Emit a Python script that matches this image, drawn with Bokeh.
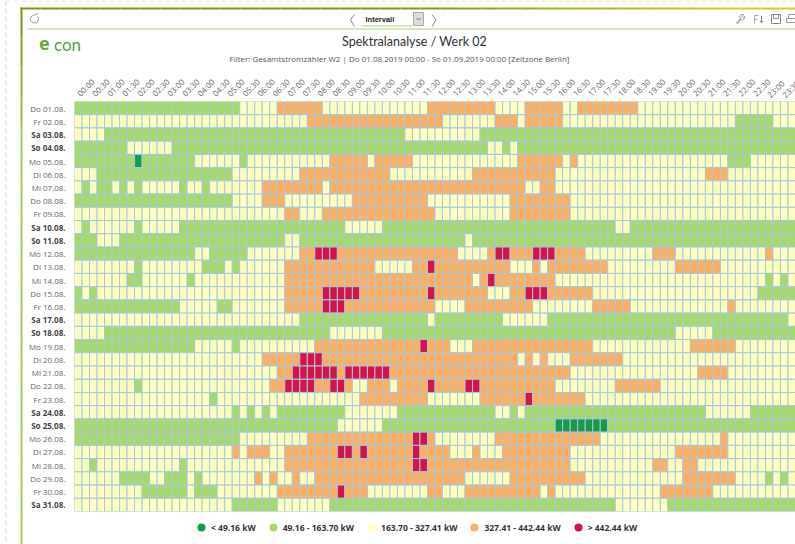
import math
from bokeh.core.properties import value
from bokeh.embed import file_html
from bokeh.layouts import column
from bokeh.resources import INLINE
from bokeh.plotting import figure
from bokeh.models import ColumnDataSource, FixedTicker, Range1d, Legend, LegendItem

days = ["Do 01.08.", "Fr 02.08.", "Sa 03.08.", "So 04.08.", "Mo 05.08.", "Di 06.08.", "Mi 07.08.", "Do 08.08.",
        "Fr 09.08.", "Sa 10.08.", "So 11.08.", "Mo 12.08.", "Di 13.08.", "Mi 14.08.", "Do 15.08.", "Fr 16.08.",
        "Sa 17.08.", "So 18.08.", "Mo 19.08.", "Di 20.08.", "Mi 21.08.", "Do 22.08.", "Fr 23.08.", "Sa 24.08.",
        "So 25.08.", "Mo 26.08.", "Di 27.08.", "Mi 28.08.", "Do 29.08.", "Fr 30.08.", "Sa 31.08."]
times = [f"{h:02d}:{m:02d}" for h in range(24) for m in (0, 15, 30, 45)]

class_labels = {"d": "< 49.16 kW", "g": "49.16 - 163.70 kW", "y": "163.70 - 327.41 kW",
                "o": "327.41 - 442.44 kW", "r": "> 442.44 kW"}
class_colors = {"d": "#169a4a", "g": "#a6d96a", "y": "#ffffbf", "o": "#fdae61", "r": "#d5134a"}

# per day: band code + first quarter-hour index of that band
day_bands = [
    "g0 y22 o27 y33 o47 y56 o60 y65 o67 y75",
    "y0 o31 y49 o56 y59 o60 y65 g88 y93",
    "y0 g4 y44 g54",
    "g0 y7 g13 y55 g57 y58 g59",
    "g0 d8 g9 y16 g22 y23 o34 y39 o40 y45 o59 y65 o66 y67 g87 y90",
    "y0 g3 y21 o30 y42 o53 y64 o84 y87",
    "y0 g1 y2 g3 y5 g6 y7 g8 y9 g14 y15 g17 y18 o25 y33 o34 y60 o62 y64",
    "g0 y21 o25 y28 o37 y47 o58 y66",
    "y0 o28 y30 o33 y48 o58 y66",
    "y0 g1 y2 g8 y9 g14 y36 g41 y72 g74",
    "g0 y3 g6 y28 g30 y52 g53",
    "g0 y16 g18 y23 o30 r32 o35 y51 o55 r56 o58 r61 o64 y68 o77 y80 o92 y93",
    "y0 g8 y9 g17 y20 g21 y22 o28 y40 o45 r47 o48 y58 o61 y62 o63 y71 o80 y86",
    "y0 g7 y9 g15 y16 o28 y53 o54 r55 o56 y64 g92 y93 g94 y95",
    "g0 y1 g2 y3 o28 r33 o38 r47 o48 y55 o58 r60 o63 y69 g91",
    "g0 y14 g19 y21 o28 r33 o36 y48 o52 y61 o69 y74 o87 y88",
    "y0 g30 y47 g48 y57 g63 y95",
    "y0 g4 y34 g41 y80 g85",
    "g0 y16 g21 y22 o32 r46 o47 y50 o53 y69 o82 y88",
    "y0 o25 r30 o33 y59 o60 y61 o62 y63 o66 y73",
    "y0 o27 r29 o35 r36 o42 y66 o83 y87",
    "y0 g8 y9 o26 r28 o32 r34 o36 y37 o39 y42 o43 r47 o48 r52 o54 y64 o72 y78",
    "y0 g18 y19 o38 y47 o54 r60 o61 y68",
    "y0 g21 y22 g23 y24 g25 y26 g27 y36 g43 y56 g58 y59 g60 y84 g90",
    "g0 y35 g41 d64 g71",
    "g0 y22 o31 r45 o47 y48 o56 y70 o86 y87",
    "y0 o21 y22 o23 y26 o28 r35 o37 r38 o39 r45 o46 y50 o53 y54 o57 y66 o80 y87",
    "y0 g2 y3 g14 y15 o28 r45 o47 y66 o77 y79 o81 y83",
    "y0 g6 y10 g12 y15 g16 y17 o24 y25 o26 y27 o29 y30 o32 y52 o58 y68 o81 y88 g92 y93 g94 y95",
    "y0 g9 y15 g16 y19 o27 r35 o36 y39 o47 y49 o52 y62 o63 y64 o78 y85",
    "y0 g21 y27 g34 y72 g79",
]

title_text = "Spektralanalyse / Werk 02"
filter_text = "Filter: Gesamtstromzähler W2 | Do 01.08.2019 00:00 - So 01.09.2019 00:00 [Zeitzone Berlin]"

W, H = 795, 544
LEFT, TOP, BOTTOM = 74, 101, 33
FONT = "Open Sans"

xs, ys, cols = [], [], []
for row, spec in enumerate(day_bands):
    parts = [(s[0], int(s[1:])) for s in spec.split()]
    for i, (c, start) in enumerate(parts):
        end = parts[i + 1][1] if i + 1 < len(parts) else len(times)
        for k in range(start, end):
            xs.append(k); ys.append(row); cols.append(class_colors[c])

# ---- backdrop figure: its frame is the whole page, in page pixels, so nothing in it is clipped
cell_w = (W - LEFT) / len(times)
cell_h = (H - TOP - BOTTOM) / len(days)
bg = figure(width=W, height=H, output_backend="svg", toolbar_location=None, frame_align=False,
            x_range=Range1d(0, W), y_range=Range1d(H, 0), x_axis_location=None, y_axis_location=None,
            min_border=0, outline_line_color=None)
bg.grid.visible = False
bg.extra_x_ranges["cells"] = Range1d(-0.5 - LEFT / cell_w, len(times) - 0.5)
bg.extra_y_ranges["rows"] = Range1d(len(days) - 0.5 + BOTTOM / cell_h, -0.5 - TOP / cell_h)


def box(x0, y0, x1, y1, fill, line=None):
    bg.quad(left=[x0], right=[x1], top=[y0], bottom=[y1], fill_color=fill, line_color=line, line_width=1)


def path(pts, color, width=1.0, dash="solid"):
    bg.line([a for a, b in pts], [b for a, b in pts], line_color=color, line_width=width, line_dash=dash)


def text(x, y, s, size, color="#444444", font=FONT, style="normal", align="left"):
    bg.text(x=[x], y=[y], text=[s], text_font=value(font), text_font_size=size, text_color=color,
            text_font_style=style, text_align=align, text_baseline="middle")


path([(5.5, 0), (5.5, H)], "#cccccc", 1, "5 3")
path([(5, 0.5), (W, 0.5)], "#dddddd", 1, "5 3")

# top bar gradient olive -> yellow
stops = [(20, (128, 148, 24)), (400, (140, 150, 20)), (720, (205, 205, 50)), (795, (205, 205, 50))]
for i in range(39):
    x0 = 20 + i * 20
    for (a, ca), (b, cb) in zip(stops, stops[1:]):
        if a <= x0 < b:
            t = (x0 - a) / (b - a)
            col = tuple(int(u + (v - u) * t) for u, v in zip(ca, cb))
    box(x0, 7, min(x0 + 20, W), 9, "#%02x%02x%02x" % col)
# left bar gradient
for i in range(18):
    y0 = 7 + i * 30
    t = min(i / 4, 1)
    col = (int(128 + 32 * t), int(148 + 52 * t), int(24 + 66 * t))
    box(20, y0, 22, min(y0 + 30, H), "#%02x%02x%02x" % col)
box(27, 28, W, 29, "#a9cf7f")

# reload icon
path([(34 + 4 * math.cos(a / 10), 18.5 + 4 * math.sin(a / 10)) for a in range(-8, 52, 4)] + [(37.5, 13)], "#999999")
# nav
path([(354, 14), (350, 19.5), (354, 26)], "#888888")
path([(431.5, 14), (435.5, 19.5), (431.5, 26)], "#888888")
box(361, 25, 412, 26, "#a9cf7f")
box(413, 12, 423, 25, "#dddddd", "#aaaaaa")
path([(416, 17.5), (418, 19.5), (420, 17.5)], "#666666")
text(365, 19, "Intervall", "7.5px", "#222222", "Liberation Sans", "bold")
# toolbar icons
path([(736, 22.5), (740, 18), (739, 15.5), (741, 14), (743, 14), (741.5, 16), (743, 17.5), (744, 16), (744, 18),
      (742, 19.5), (740, 19), (737.5, 23), (736, 22.5)], "#999999")
path([(754, 15), (754, 23)], "#aaaaaa")
path([(754, 15), (758, 15)], "#aaaaaa")
path([(754, 19), (757, 19)], "#aaaaaa")
path([(761, 15), (761, 22), (759.5, 20.5)], "#888888")
path([(761, 22), (762.5, 20.5)], "#888888")
box(771, 14, 780, 23, None, "#888888")
box(773, 14, 778, 18, None, "#888888")
box(788, 14, 795, 18, None, "#999999")
box(786, 18, 795, 22, None, "#999999")

# logo and headings
text(38.5, 43, "e", "18px", "#62ac3f", "Open Sans", "bold")
text(53.5, 43.5, "con", "17px", "#4fa048", "Lato")
text(414, 41, title_text, "12.5px", "#333333", "Lato", "normal", "center")
text(399, 58, filter_text, "8px", "#555555", FONT, "normal", "center")

# weekend row labels are bold
wk = [i for i, d in enumerate(days) if d[:2] in ("Sa", "So")]
bg.text(x=[0] * len(wk), y=wk, text=[days[i] for i in wk], x_range_name="cells", y_range_name="rows",
        x_offset=-12.75, text_align="right", text_baseline="middle", text_font=value(FONT),
        text_font_size="8px", text_font_style="bold", text_color="#444444")

# the last two time labels run off the page edge, as in the original
half_hours = [k for k, t in enumerate(times) if t[3:] in ("00", "30")]
edge = half_hours[-2:]
bg.text(x=edge, y=[0, 0], text=[times[k] for k in edge], x_range_name="cells", y_range_name="rows",
        y_offset=-12, x_offset=-1, angle=math.pi / 4, text_align="left", text_baseline="middle",
        text_font=value(FONT), text_font_size="8px", text_color="#666666")

# legend
items = []
for c in "dgyor":
    r = bg.scatter(x=[float("nan")], y=[float("nan")], marker="circle", size=8, fill_color=class_colors[c],
                   line_color=None)
    items.append(LegendItem(label=class_labels[c], renderers=[r]))
leg = Legend(items=items, orientation="horizontal", location=(191, 7), background_fill_alpha=0,
             border_line_color=None, padding=0, margin=0, glyph_width=20, glyph_height=20,
             label_standoff=-2, spacing=7, label_text_font=FONT, label_text_font_size="8.5px",
             label_text_font_style="bold", label_text_color="#333333", label_height=10)
bg.add_layout(leg)

# ---- heat map on top, with its real axes
p = figure(width=W, height=H, output_backend="svg", toolbar_location=None, margin=(-H, 0, 0, 0), frame_align=False,
           x_range=Range1d(-0.5, len(times) - 0.5), y_range=Range1d(len(days) - 0.5, -0.5),
           x_axis_location="above", min_border_left=LEFT, min_border_right=0,
           min_border_top=TOP, min_border_bottom=BOTTOM, outline_line_color=None,
           background_fill_color=None, border_fill_color=None)
p.grid.visible = False
p.rect(x="x", y="y", width=1, height=1, fill_color="c", line_color="#a3c9df", line_width=1,
       source=ColumnDataSource(dict(x=xs, y=ys, c=cols)))

xa = p.xaxis[0]
axis_ticks = [k for k in half_hours if k not in edge]
xa.ticker = FixedTicker(ticks=axis_ticks)
xa.major_label_overrides = {k: times[k] for k in axis_ticks}
xa.major_label_orientation = math.pi / 4
xa.major_label_text_font = FONT
xa.major_label_text_font_size = "8px"
xa.major_label_text_color = "#666666"
xa.major_tick_out = 0
xa.major_label_standoff = 7
xa.axis_line_color = None
xa.major_tick_line_color = None
xa.minor_tick_line_color = None

ya = p.yaxis[0]
workdays = [i for i, d in enumerate(days) if d[:2] not in ("Sa", "So")]
ya.ticker = FixedTicker(ticks=workdays)
ya.major_label_overrides = {i: days[i] for i in workdays}
ya.major_label_text_font = FONT
ya.major_label_text_font_size = "8px"
ya.major_label_text_color = "#666666"
ya.major_tick_out = 0
ya.major_label_standoff = 9
ya.axis_line_color = None
ya.major_tick_line_color = None
ya.minor_tick_line_color = None

page = column(bg, p, spacing=0)
open("out.html", "w").write(file_html(page, INLINE))
